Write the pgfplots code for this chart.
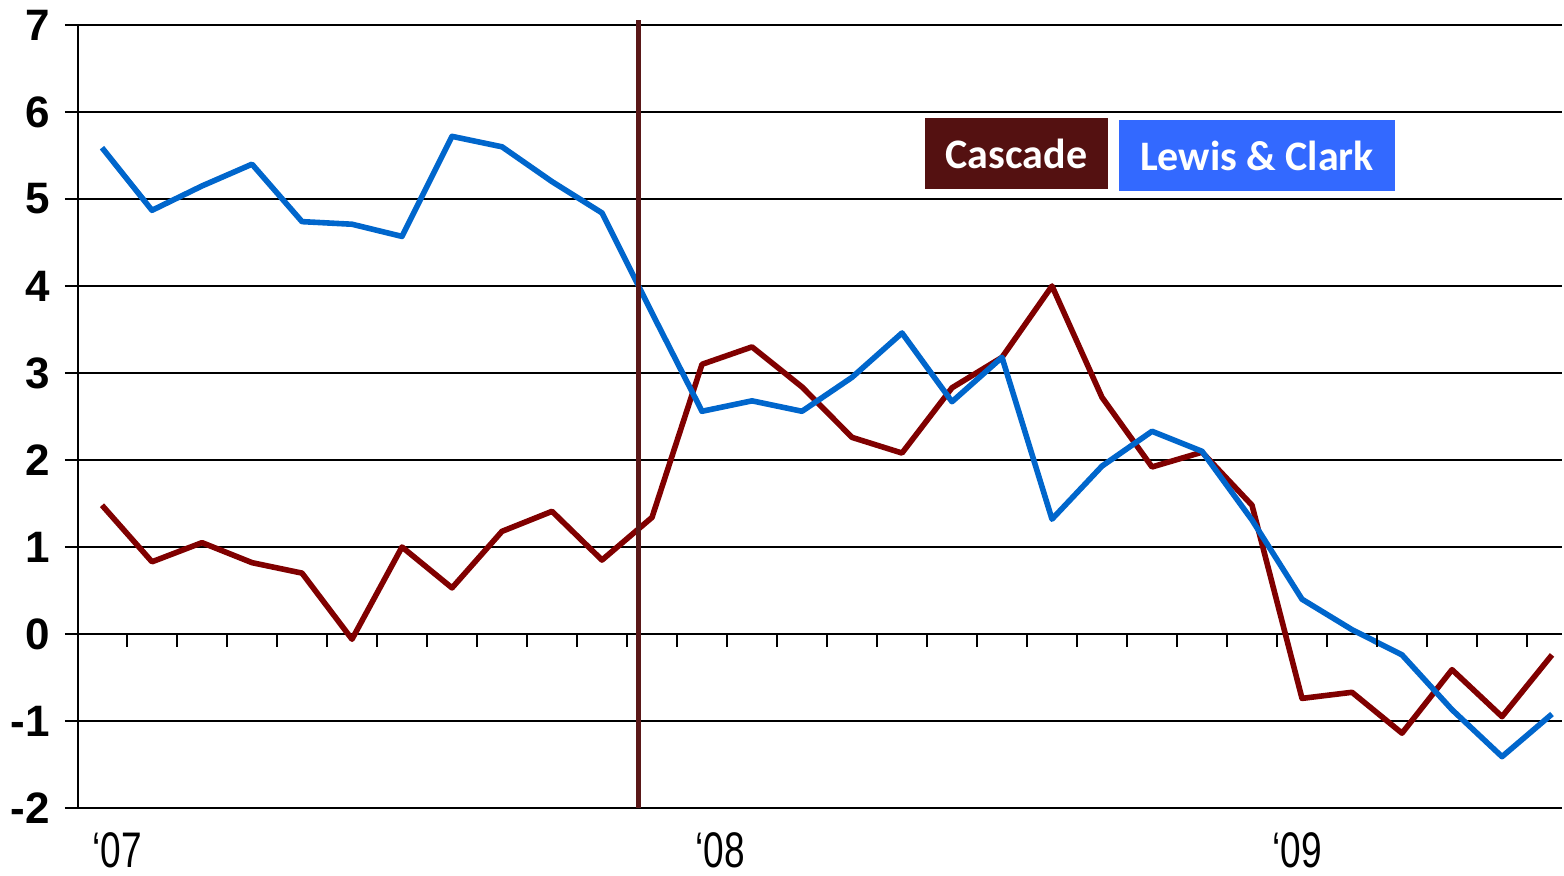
\documentclass[border=0pt]{standalone}
\usepackage{pgfplots}
\pgfplotsset{compat=1.18}
\usepackage{pgfplotstable}
\usepackage{fontspec}
\setmainfont{Liberation Sans}
\newfontfamily\narrowfont[FakeStretch=0.74]{Liberation Sans}
\newfontfamily\legfont{Carlito}
\definecolor{cascade}{HTML}{800000}
\definecolor{lewis}{HTML}{0066CC}
\definecolor{cascbox}{HTML}{541111}
\definecolor{lewisbox}{HTML}{3369FF}
\definecolor{vline}{HTML}{5A1818}

\pgfplotstableread{
k cas lc
0 1.48 5.59
1 0.83 4.87
2 1.05 5.15
3 0.82 5.40
4 0.70 4.74
5 -0.06 4.71
6 1.00 4.57
7 0.53 5.72
8 1.18 5.60
9 1.41 5.20
10 0.85 4.84
11 1.34 3.69
12 3.10 2.56
13 3.30 2.68
14 2.84 2.56
15 2.26 2.95
16 2.08 3.46
17 2.83 2.67
18 3.18 3.18
19 4.00 1.32
20 2.72 1.93
21 1.92 2.33
22 2.09 2.10
23 1.48 1.31
24 -0.74 0.40
25 -0.67 0.05
26 -1.14 -0.24
27 -0.41 -0.87
28 -0.95 -1.41
29 -0.24 -0.92
}\datatable

\begin{document}
\begin{tikzpicture}
\path[use as bounding box] (0,0) rectangle (782pt,437.5pt);
\begin{axis}[
  at={(39pt,33.5pt)}, anchor=south west,
  scale only axis, width=742pt, height=391.5pt,
  xmin=-0.48, xmax=29.2, ymin=-2, ymax=7,
  axis x line=none, axis y line=left,
  y axis line style={-, line width=1.3pt},
  ytick={-2,...,7}, yticklabels={-2,-1,0,1,2,3,4,5,6,7},
  ymajorgrids, grid style={black, line width=1.3pt},
  ytick align=outside, major tick length=6.5pt,
  y tick style={black, line width=1.3pt},
  yticklabel style={font=\fontsize{22}{22}\selectfont\bfseries, anchor=east, xshift=-4pt},
  clip=false,
]
\addplot[cascade, line width=2.8pt, line join=round] table[x=k,y=cas]{\datatable};
\addplot[lewis, line width=2.8pt, line join=round] table[x=k,y=lc]{\datatable};
\draw[vline, line width=2.5pt] (axis cs:10.72,-2) -- (axis cs:10.72,7.06);
\pgfplotsinvokeforeach{0.5,1.5,...,28.5}{\draw[black, line width=1.3pt] (axis cs:#1,0) -- ([yshift=-6.5pt]axis cs:#1,0);}
\node[fill=cascbox, text=white, minimum width=91.5pt, minimum height=35.5pt, inner sep=0pt,
  font=\legfont\bfseries\fontsize{21}{21}\selectfont] at (axis cs:18.29,5.52) {Cascade};
\node[fill=lewisbox, text=white, minimum width=138pt, minimum height=35.5pt, inner sep=0pt,
  font=\legfont\bfseries\fontsize{21}{21}\selectfont] at (axis cs:23.1,5.50) {Lewis \& Clark};
\node[inner sep=0pt, anchor=base, font=\narrowfont\fontsize{25}{25}\selectfont] at ([yshift=-29.5pt]axis cs:0.3,-2) {‘07};
\node[inner sep=0pt, anchor=base, font=\narrowfont\fontsize{25}{25}\selectfont] at ([yshift=-29.5pt]axis cs:12.36,-2) {‘08};
\node[inner sep=0pt, anchor=base, font=\narrowfont\fontsize{25}{25}\selectfont] at ([yshift=-29.5pt]axis cs:23.9,-2) {‘09};
\end{axis}
\end{tikzpicture}
\end{document}
